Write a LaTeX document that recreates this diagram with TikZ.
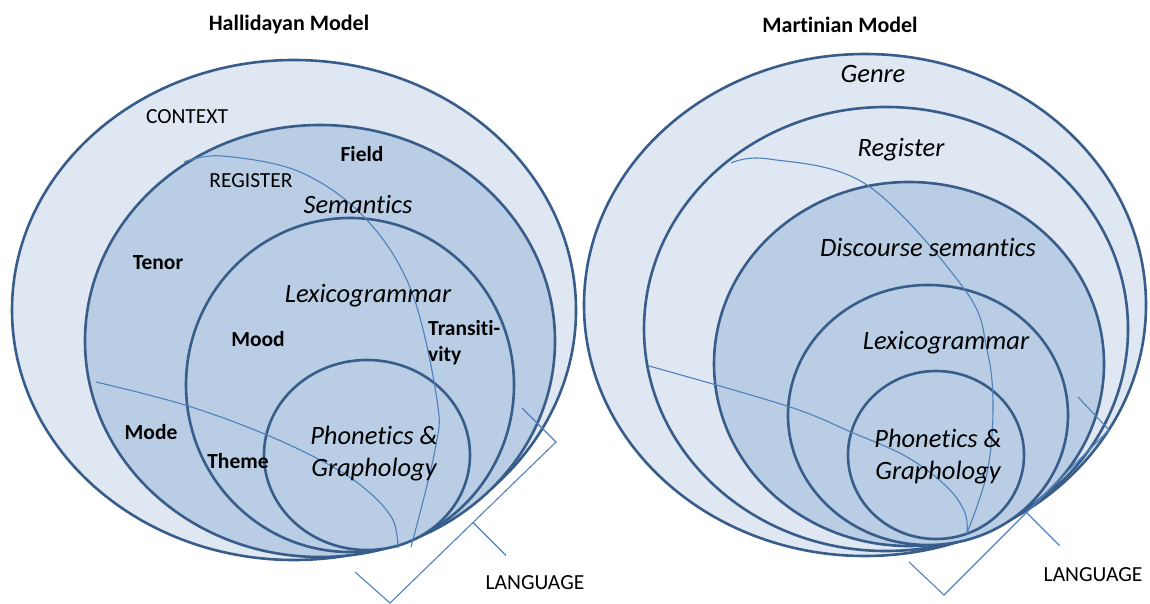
\documentclass[tikz,border=0pt]{standalone}
\usepackage{fontspec}
\setmainfont{Carlito}[Ligatures={NoCommon,NoContextual}, Contextuals=NoAlternate, RawFeature={-dlig}]
\usetikzlibrary{calc}
\definecolor{ringline}{RGB}{56,93,138}
\definecolor{lightfill}{RGB}{222,231,242}
\definecolor{midfill}{RGB}{185,205,228}
\definecolor{thinline}{RGB}{79,129,189}
\begin{document}
\begin{tikzpicture}[x=1pt,y=-1pt,
  layerlight/.style={draw=ringline, line width=2.6pt, fill=lightfill},
  layermid/.style={draw=ringline, line width=2.6pt, fill=midfill},
  boundary/.style={draw=thinline, line width=1.1pt},
  bracketline/.style={draw=thinline, line width=1.1pt},
  title/.style={inner sep=0pt, font=\fontsize{22}{26}\selectfont\bfseries},
  tag/.style={inner sep=0pt, font=\fontsize{21.5}{26}\selectfont},
  btag/.style={inner sep=0pt, font=\fontsize{21.5}{26}\selectfont\bfseries},
  stratum/.style={inner sep=0pt, align=center, font=\fontsize{26.5}{32}\selectfont\itshape},
]
\useasboundingbox (0,0) rectangle (1150,604);

% ---------- Hallidayan rings ----------
\draw[layerlight] (294,310) ellipse [x radius=282pt, y radius=250pt];
\draw[layermid]   (320,341) ellipse [x radius=235pt, y radius=216pt];
\draw[layermid]   (350,385) ellipse [x radius=164pt, y radius=167pt];
\draw[layermid]   (367,455) ellipse [x radius=103pt, y radius=95pt];

\draw[boundary] plot[smooth, tension=0.6] coordinates
  {(184,162) (222,156) (300,172) (365,218) (411,290) (437,400) (435,450) (411,547)};
\draw[boundary] plot[smooth, tension=0.6] coordinates
  {(96,382) (185,405) (267,435) (333,467) (370,493) (393,520) (398,548)};

% ---------- Martinian rings ----------
\draw[layerlight] (865,305) ellipse [x radius=281pt, y radius=251pt];
\draw[layerlight] (886,329) ellipse [x radius=242pt, y radius=222pt];
\draw[layermid]   (909,364) ellipse [x radius=195pt, y radius=182pt];
\draw[layermid]   (928,415) ellipse [x radius=140pt, y radius=130pt];
\draw[layermid]   (936,455) ellipse [x radius=88pt, y radius=84pt];

\draw[boundary] plot[smooth, tension=0.6] coordinates
  {(731,163) (769,159) (867,185) (965,290) (987,350) (993,407) (987,473) (967,533)};
\draw[boundary] plot[smooth, tension=0.6] coordinates
  {(649,366) (787,406) (851,432) (907,457) (947,487) (965,513) (967,535)};

% ---------- brackets marking LANGUAGE ----------
\coordinate (la1) at (355,572);
\coordinate (la2) at (390,603);
\coordinate (la3) at (556,442);
\coordinate (la4) at (522,408);
\coordinate (lmid) at ($(la2)!0.5!(la3)$);
\coordinate (ltick) at ($(lmid)+(33,33)$);
\draw[bracketline] (la1) -- (la2) -- (la3) -- (la4);
\draw[bracketline] (lmid) -- (ltick);

\coordinate (ra1) at (909,562);
\coordinate (ra2) at (944,595);
\coordinate (ra3) at (1109,430);
\coordinate (ra4) at (1078,397);
\coordinate (rmid) at ($(ra2)!0.5!(ra3)$);
\coordinate (rtick) at ($(rmid)+(33,33)$);
\draw[bracketline] (ra1) -- (ra2) -- (ra3) -- (ra4);
\draw[bracketline] (rmid) -- (rtick);

% ---------- Hallidayan labels ----------
\node[title] (htitle) at (289,25) {Hallidayan Model};
\node[tag] (hcontext) at (187,117) {CONTEXT};
\node[btag] (hfield) at (362,154) {Field};
\node[tag] (hregister) at (251,181) {REGISTER};
\node[stratum] (hsem) at (358,204) {Semantics};
\node[btag] (htenor) at (158,263) {Tenor};
\node[stratum] (hlex) at (368,296) {Lexicogrammar};
\node[btag] (hmood) at (258,339) {Mood};
\node[btag, align=left, anchor=west, font=\fontsize{21.5}{26}\selectfont\bfseries] (htrans) at (428,343) {Transiti-\\vity};
\node[btag] (hmode) at (151,432) {Mode};
\node[btag] (htheme) at (238,461) {Theme};
\node[stratum] (hphon) at (374,454) {Phonetics \&\\Graphology};
\node[tag] (hlang) at (535,583) {LANGUAGE};

% ---------- Martinian labels ----------
\node[title] (mtitle) at (840,25) {Martinian Model};
\node[stratum] (mgenre) at (873,74) {Genre};
\node[stratum] (mreg) at (901,150) {Register};
\node[stratum] (mdisc) at (928,247) {Discourse semantics};
\node[stratum] (mlex) at (946,343) {Lexicogrammar};
\node[stratum] (mphon) at (938,457) {Phonetics \&\\Graphology};
\node[tag] (mlang) at (1093,575) {LANGUAGE};
\end{tikzpicture}
\end{document}
